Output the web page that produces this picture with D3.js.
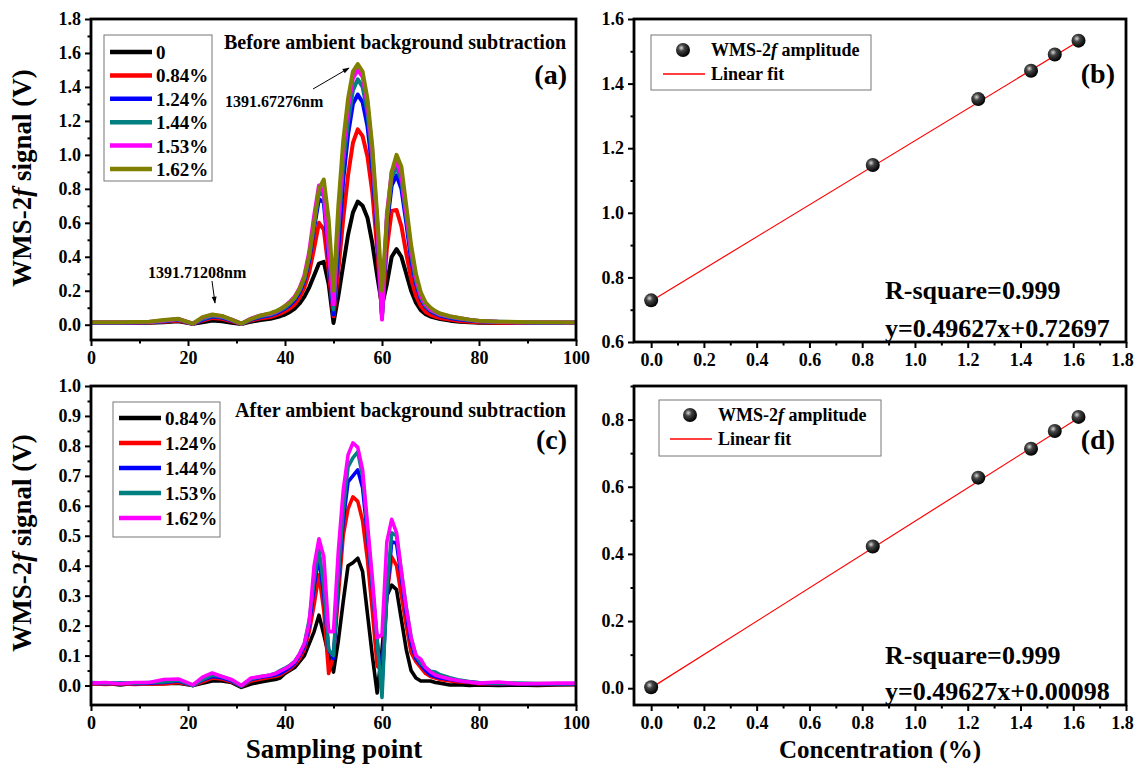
<!DOCTYPE html>
<html>
<head>
<meta charset="utf-8">
<script src="https://cdn.jsdelivr.net/npm/d3@7"></script>
<style>
body { margin: 0; background: #fff; }
svg { display: block; }
text { font-family: "Times New Roman", "Liberation Serif", serif; font-weight: bold; fill: #000; }
</style>
</head>
<body>
<svg id="chart" width="1136" height="765"></svg>
<script>
// sampling points shared by all curves
const samples = [0,3,6,9,12,15,18,21,23,25,27,29,31,33,35,
    37,38,39,40,41,42,43,44,45,46,47,48,49,50,51,52,53,54,55,56,57,58,59,60,61,62,63,64,65,66,67,68,69,70,71,72,
    74,76,78,80,84,88,92,96,100];

// (a) before ambient background subtraction
const before0 = [0.01,0.01,0.01,0.01,0.012,0.015,0.02,0.005,0.015,0.025,0.02,0.012,0.004,0.018,0.028,
    0.035,0.042,0.05,0.06,0.075,0.095,0.125,0.165,0.22,0.29,0.36,0.37,0.24,0.01,0.17,0.35,0.53,0.66,0.725,0.70,0.63,0.48,0.29,0.11,0.24,0.40,0.445,0.40,0.30,0.20,0.13,0.085,0.062,0.048,0.04,0.033,
    0.024,0.018,0.014,0.012,0.01,0.01,0.01,0.01,0.01];
const before084 = [0.01,0.01,0.01,0.012,0.013,0.017,0.025,0.005,0.025,0.04,0.035,0.02,0.005,0.025,0.038,
    0.045,0.055,0.065,0.08,0.095,0.12,0.16,0.22,0.31,0.45,0.60,0.56,0.32,0.05,0.32,0.62,0.88,1.07,1.15,1.11,0.99,0.78,0.45,0.06,0.45,0.67,0.675,0.58,0.42,0.27,0.17,0.11,0.075,0.058,0.047,0.04,
    0.03,0.022,0.018,0.014,0.012,0.01,0.01,0.01,0.01];
const before124 = [0.012,0.012,0.012,0.013,0.014,0.02,0.03,0.005,0.03,0.048,0.042,0.025,0.005,0.03,0.045,
    0.055,0.065,0.08,0.095,0.115,0.145,0.19,0.26,0.38,0.57,0.74,0.72,0.40,0.06,0.45,0.85,1.12,1.30,1.355,1.31,1.17,0.92,0.55,0.05,0.58,0.82,0.88,0.80,0.60,0.38,0.24,0.15,0.105,0.08,0.065,0.053,
    0.04,0.03,0.025,0.02,0.016,0.014,0.012,0.012,0.012];
const before144 = [0.013,0.013,0.013,0.014,0.015,0.022,0.032,0.005,0.035,0.052,0.046,0.028,0.005,0.033,0.05,
    0.06,0.07,0.085,0.10,0.125,0.155,0.20,0.27,0.40,0.60,0.78,0.76,0.45,0.09,0.55,0.95,1.20,1.38,1.445,1.40,1.25,0.98,0.60,0.05,0.62,0.87,0.93,0.85,0.64,0.42,0.26,0.16,0.11,0.085,0.07,0.058,
    0.045,0.035,0.028,0.021,0.017,0.015,0.013,0.013,0.013];
const before153 = [0.014,0.014,0.014,0.015,0.016,0.025,0.034,0.006,0.042,0.058,0.05,0.03,0.006,0.036,0.055,
    0.065,0.075,0.09,0.11,0.135,0.165,0.215,0.29,0.43,0.64,0.82,0.78,0.45,0.12,0.62,1.02,1.28,1.45,1.50,1.46,1.30,1.02,0.60,0.03,0.65,0.90,0.96,0.88,0.66,0.44,0.28,0.17,0.12,0.09,0.075,0.062,
    0.048,0.038,0.03,0.022,0.017,0.015,0.014,0.014,0.013];
const before162 = [0.015,0.015,0.015,0.016,0.018,0.028,0.035,0.006,0.045,0.06,0.052,0.03,0.006,0.035,0.055,
    0.068,0.078,0.092,0.11,0.13,0.16,0.21,0.28,0.41,0.60,0.80,0.855,0.62,0.20,0.70,1.08,1.33,1.49,1.535,1.49,1.33,1.05,0.65,0.20,0.62,0.90,1.00,0.93,0.70,0.47,0.30,0.19,0.13,0.10,0.08,0.066,
    0.05,0.04,0.03,0.023,0.018,0.016,0.015,0.014,0.013];

// (c) after ambient background subtraction
const after084 = [0.005,0.008,0.002,0.008,0.005,0.006,0.008,0.0,0.008,0.015,0.015,0.01,-0.006,0.005,0.012,
    0.018,0.02,0.025,0.04,0.05,0.06,0.08,0.10,0.14,0.18,0.235,0.17,0.10,0.045,0.15,0.28,0.40,0.41,0.425,0.38,0.24,0.10,-0.025,0.12,0.30,0.335,0.32,0.22,0.12,0.05,0.025,0.015,0.015,0.015,0.01,0.008,
    0.002,0.003,0.0,0.002,0.0,0.002,0.0,0.002,0.003];
const after124 = [0.006,0.004,0.006,0.004,0.006,0.005,0.01,0.0,0.012,0.025,0.022,0.012,-0.003,0.015,0.022,
    0.028,0.03,0.035,0.045,0.055,0.07,0.09,0.12,0.18,0.27,0.37,0.25,0.04,0.10,0.30,0.50,0.59,0.63,0.615,0.55,0.42,0.25,0.065,0.05,0.30,0.43,0.40,0.30,0.20,0.11,0.08,0.06,0.04,0.03,0.025,0.02,
    0.015,0.012,0.01,0.006,0.005,0.005,0.004,0.004,0.004];
const after144 = [0.008,0.006,0.008,0.006,0.008,0.01,0.015,0.0,0.018,0.03,0.026,0.015,-0.002,0.02,0.028,
    0.032,0.035,0.04,0.05,0.06,0.075,0.10,0.13,0.20,0.33,0.43,0.30,0.12,0.09,0.35,0.55,0.68,0.70,0.72,0.66,0.50,0.33,0.15,0.0,0.30,0.48,0.475,0.36,0.24,0.14,0.09,0.07,0.05,0.035,0.03,0.025,
    0.02,0.015,0.012,0.008,0.006,0.006,0.005,0.005,0.005];
const after153 = [0.01,0.008,0.008,0.008,0.01,0.012,0.018,0.0,0.02,0.035,0.03,0.018,-0.002,0.022,0.03,
    0.035,0.04,0.05,0.058,0.068,0.08,0.105,0.14,0.22,0.35,0.455,0.33,0.12,0.10,0.37,0.58,0.73,0.76,0.78,0.70,0.52,0.34,0.15,-0.04,0.32,0.51,0.50,0.38,0.26,0.16,0.10,0.075,0.06,0.048,0.045,0.036,
    0.026,0.018,0.013,0.01,0.008,0.008,0.007,0.006,0.006];
const after162 = [0.008,0.01,0.006,0.01,0.01,0.02,0.022,0.002,0.028,0.042,0.03,0.02,0.0,0.025,0.03,
    0.035,0.04,0.048,0.056,0.066,0.08,0.105,0.14,0.21,0.40,0.49,0.43,0.18,0.18,0.45,0.65,0.77,0.81,0.795,0.72,0.54,0.36,0.16,0.17,0.48,0.555,0.51,0.38,0.26,0.16,0.10,0.088,0.06,0.045,0.035,0.03,
    0.022,0.016,0.012,0.008,0.012,0.006,0.007,0.008,0.008];

const beforeLabels = ["0", "0.84%", "1.24%", "1.44%", "1.53%", "1.62%"];
const afterLabels = ["0.84%", "1.24%", "1.44%", "1.53%", "1.62%"];
const beforeColors = ["#000000", "#ff0000", "#0000ff", "#008080", "#ff00ff", "#808000"];
const afterColors = ["#000000", "#ff0000", "#0000ff", "#008080", "#ff00ff"];

// (b), (d) amplitude vs concentration
const conc = [0, 0.84, 1.24, 1.44, 1.53, 1.62];
const ampBefore = [0.729, 1.148, 1.352, 1.440, 1.490, 1.533];
const ampAfter = [0.003, 0.422, 0.627, 0.713, 0.766, 0.808];
const fitBefore = [0.49627, 0.72697]; // slope, intercept
const fitAfter = [0.49627, 0.00098];

const svg = d3.select("#chart");
const defs = svg.append("defs");

// shaded ball marker
const grad = defs.append("radialGradient").attr("id", "ball")
    .attr("cx", "38%").attr("cy", "35%").attr("r", "65%");
grad.append("stop").attr("offset", "0%").attr("stop-color", "#d8d8d8");
grad.append("stop").attr("offset", "35%").attr("stop-color", "#444");
grad.append("stop").attr("offset", "100%").attr("stop-color", "#000");

defs.append("marker").attr("id", "arrow")
    .attr("viewBox", "0 0 10 10").attr("refX", 9).attr("refY", 5)
    .attr("markerWidth", 9).attr("markerHeight", 7).attr("orient", "auto")
    .append("path").attr("d", "M0,1.5 L10,5 L0,8.5 Z").attr("fill", "#000");

// evenly spaced tick values from a to b
function range(a, b, step) {
    const n = Math.round((b - a) / step);
    return d3.range(n + 1).map(i => +(a + i * step).toFixed(3));
}

// builds frame, scales and axes for one panel
function panel(id, box, xDom, yDom, xMajor, xMinor, yMajor, yMinor, xFmt, yFmt) {
    const x = d3.scaleLinear().domain(xDom).range([box.left, box.right]);
    const y = d3.scaleLinear().domain(yDom).range([box.bottom, box.top]);
    const g = svg.append("g");

    defs.append("clipPath").attr("id", "clip" + id)
        .append("rect")
        .attr("x", box.left).attr("y", box.top)
        .attr("width", box.right - box.left).attr("height", box.bottom - box.top);

    g.append("g").attr("transform", `translate(0,${box.bottom})`)
        .call(d3.axisBottom(x).tickValues(xMajor).tickSize(6).tickPadding(5).tickFormat(xFmt));
    g.append("g").attr("transform", `translate(0,${box.bottom})`)
        .call(d3.axisBottom(x).tickValues(xMinor).tickSize(3.5).tickFormat(""));
    g.append("g").attr("transform", `translate(${box.left},0)`)
        .call(d3.axisLeft(y).tickValues(yMajor).tickSize(6).tickPadding(4).tickFormat(yFmt));
    g.append("g").attr("transform", `translate(${box.left},0)`)
        .call(d3.axisLeft(y).tickValues(yMinor).tickSize(3.5).tickFormat(""));
    g.selectAll(".domain").remove();
    g.selectAll(".tick line").attr("stroke", "#000").attr("stroke-width", 2);
    g.selectAll(".tick text").style("font-size", "18px").style("font-weight", "bold")
        .style("font-family", "\"Times New Roman\", \"Liberation Serif\", serif");

    const plot = svg.append("g").attr("clip-path", `url(#clip${id})`);
    const top = svg.append("g");
    top.append("rect")
        .attr("x", box.left).attr("y", box.top)
        .attr("width", box.right - box.left).attr("height", box.bottom - box.top)
        .attr("fill", "none").attr("stroke", "#000").attr("stroke-width", 2.8);
    return {x, y, g, plot, top};
}

const f1 = d3.format(".1f");
const f0 = d3.format("d");

// ---------- (a) ----------
const pa = panel("a", {left: 91, right: 576, top: 19, bottom: 340},
    [0, 100], [-0.09, 1.8],
    range(0, 100, 20), range(10, 90, 20),
    range(0, 1.8, 0.2), range(0.1, 1.7, 0.2), f0, f1);

const beforeSeries = [before0, before084, before124, before144, before153, before162];
const lineA = d3.line().x((d, i) => pa.x(samples[i])).y(d => pa.y(d));
pa.plot.selectAll("path.curve").data(beforeSeries).join("path")
    .attr("class", "curve")
    .attr("d", lineA)
    .attr("fill", "none")
    .attr("stroke", (d, i) => beforeColors[i])
    .attr("stroke-width", 4)
    .attr("stroke-linejoin", "round");

// ---------- (c) ----------
const pc = panel("c", {left: 91, right: 576, top: 386, bottom: 705},
    [0, 100], [-0.065, 1.0],
    range(0, 100, 20), range(10, 90, 20),
    range(0, 1.0, 0.1), range(0.05, 0.95, 0.1), f0, f1);

const afterSeries = [after084, after124, after144, after153, after162];
const lineC = d3.line().x((d, i) => pc.x(samples[i])).y(d => pc.y(d));
pc.plot.selectAll("path.curve").data(afterSeries).join("path")
    .attr("class", "curve")
    .attr("d", lineC)
    .attr("fill", "none")
    .attr("stroke", (d, i) => afterColors[i])
    .attr("stroke-width", 3.6)
    .attr("stroke-linejoin", "round");

// ---------- (b) ----------
const pb = panel("b", {left: 634, right: 1126, top: 19, bottom: 342},
    [-0.065, 1.8], [0.6, 1.6],
    range(0, 1.8, 0.2), range(0.1, 1.7, 0.2),
    range(0.6, 1.6, 0.2), range(0.7, 1.5, 0.2), f1, f1);

// ---------- (d) ----------
const pd = panel("d", {left: 634, right: 1126, top: 386, bottom: 705},
    [-0.065, 1.8], [-0.05, 0.9],
    range(0, 1.8, 0.2), range(0.1, 1.7, 0.2),
    range(0, 0.8, 0.2), range(0.1, 0.9, 0.2), f1, f1);

// keep the last concentration label inside the page
[pb, pd].forEach(p => p.g.selectAll(".tick text").filter(d => d === 1.8).attr("dx", -4));

function fitPanel(p, amps, fit) {
    const ends = [conc[0], conc[conc.length - 1]];
    p.plot.append("line")
        .attr("x1", p.x(ends[0])).attr("y1", p.y(fit[0] * ends[0] + fit[1]))
        .attr("x2", p.x(ends[1])).attr("y2", p.y(fit[0] * ends[1] + fit[1]))
        .attr("stroke", "#ff0000").attr("stroke-width", 1.2);
    p.plot.selectAll("circle.pt").data(amps).join("circle")
        .attr("class", "pt")
        .attr("cx", (d, i) => p.x(conc[i]))
        .attr("cy", d => p.y(d))
        .attr("r", 7)
        .attr("fill", "url(#ball)");
}
fitPanel(pb, ampBefore, fitBefore);
fitPanel(pd, ampAfter, fitAfter);

// ---------- legends ----------
function curveLegend(box, labels, colors, x0, y0, step, lw) {
    svg.append("rect").attr("x", box[0]).attr("y", box[1])
        .attr("width", box[2]).attr("height", box[3])
        .attr("fill", "#fff").attr("stroke", "#777").attr("stroke-width", 1);
    labels.forEach((lab, i) => {
        const yy = y0 + i * step;
        svg.append("line").attr("x1", x0).attr("x2", x0 + 42).attr("y1", yy).attr("y2", yy)
            .attr("stroke", colors[i]).attr("stroke-width", lw);
        svg.append("text").attr("x", x0 + 46).attr("y", yy + 7)
            .style("font-size", "19px").text(lab);
    });
}
curveLegend([104, 35, 108, 146], beforeLabels, beforeColors, 110, 52, 23.4, 4.5);
curveLegend([113, 402, 107, 135], afterLabels, afterColors, 119, 418, 25, 4.5);

function fitLegend(box, mx, my) {
    svg.append("rect").attr("x", box[0]).attr("y", box[1])
        .attr("width", box[2]).attr("height", box[3])
        .attr("fill", "#fff").attr("stroke", "#777").attr("stroke-width", 1);
    svg.append("circle").attr("cx", mx).attr("cy", my).attr("r", 7).attr("fill", "url(#ball)");
    const t = svg.append("text").attr("x", mx + 28).attr("y", my + 6).style("font-size", "18px");
    t.append("tspan").text("WMS-2");
    t.append("tspan").style("font-style", "italic").text("f");
    t.append("tspan").text(" amplitude");
    svg.append("line").attr("x1", mx - 20).attr("x2", mx + 22).attr("y1", my + 24).attr("y2", my + 24)
        .attr("stroke", "#ff0000").attr("stroke-width", 1.5);
    svg.append("text").attr("x", mx + 28).attr("y", my + 30).style("font-size", "18px").text("Linear fit");
}
fitLegend([651, 35, 220, 55], 683, 50);
fitLegend([659, 400, 222, 56], 690, 415);

// ---------- labels ----------
function label(x, y, size, txt, anchor) {
    return svg.append("text").attr("x", x).attr("y", y)
        .attr("text-anchor", anchor || "start")
        .style("font-size", size + "px").text(txt);
}
label(566, 49, 20, "Before ambient background subtraction", "end");
label(566, 417, 20, "After ambient background subtraction", "end");
label(567, 84, 28, "(a)", "end");
label(567, 449, 28, "(c)", "end");
label(1115, 83, 28, "(b)", "end");
label(1115, 449, 28, "(d)", "end");

label(225, 107, 16, "1391.67276nm");
label(148, 278, 16, "1391.71208nm");
svg.append("line").attr("x1", 313).attr("y1", 89).attr("x2", 349).attr("y2", 68)
    .attr("stroke", "#000").attr("stroke-width", 1).attr("marker-end", "url(#arrow)");
svg.append("line").attr("x1", 212).attr("y1", 281).attr("x2", 215).attr("y2", 303)
    .attr("stroke", "#000").attr("stroke-width", 1).attr("marker-end", "url(#arrow)");

label(885, 299, 26, "R-square=0.999");
label(885, 337, 26, "y=0.49627x+0.72697");
label(885, 664, 26, "R-square=0.999");
label(885, 700, 26, "y=0.49627x+0.00098");

label(334, 758, 27, "Sampling point", "middle");
label(880, 758, 25, "Concentration (%)", "middle");

function yTitle(cy) {
    const t = svg.append("text")
        .attr("transform", `translate(31,${cy}) rotate(-90)`)
        .attr("text-anchor", "middle").style("font-size", "27px");
    t.append("tspan").text("WMS-2");
    t.append("tspan").style("font-style", "italic").text("f");
    t.append("tspan").text(" signal (V)");
}
yTitle(178);
yTitle(543);
</script>
</body>
</html>
